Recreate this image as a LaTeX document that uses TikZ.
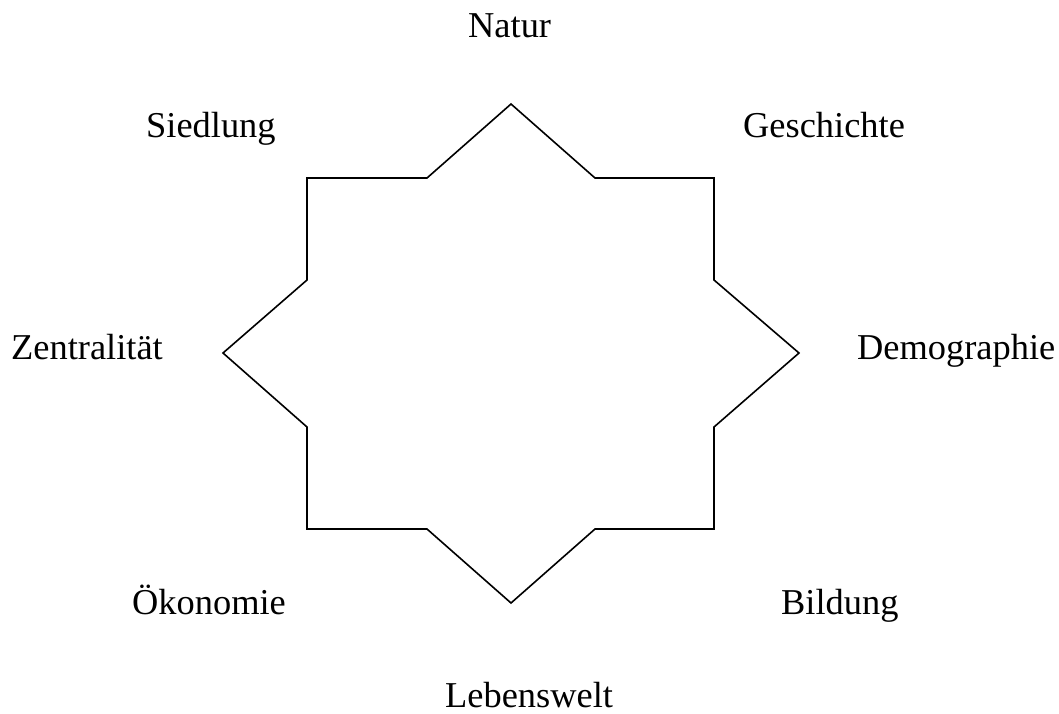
\documentclass[tikz,border=0pt]{standalone}
\usepackage{fontspec}
\setmainfont{Liberation Serif}
\begin{document}
\begin{tikzpicture}[x=1pt,y=-1pt,
  lbl/.style={anchor=base west,inner sep=0pt,font=\fontsize{36.4}{40}\selectfont},
  star/.style={draw=black,line width=1.6pt,line join=miter}]
\useasboundingbox (0,0) rectangle (1059,713);
\draw[star] (511,104) -- (427,178) -- (307,178) -- (307,280) -- (223,353)
  -- (307,427) -- (307,529) -- (427,529) -- (511,603) -- (595,529)
  -- (714,529) -- (714,427) -- (799,353) -- (714,280) -- (714,178)
  -- (595,178) -- cycle;
\node[lbl] (natur) at (468,37) {Natur};
\node[lbl] (siedlung) at (146,137) {Siedlung};
\node[lbl] (geschichte) at (743,137) {Geschichte};
\node[lbl] (zentral) at (11,359) {Zentralität};
\node[lbl] (demo) at (857,359) {Demographie};
\node[lbl] (oeko) at (132,614) {Ökonomie};
\node[lbl] (bildung) at (781,614) {Bildung};
\node[lbl,text depth=0pt] (leben) at (445,707) {Lebenswelt};
\end{tikzpicture}
\end{document}
